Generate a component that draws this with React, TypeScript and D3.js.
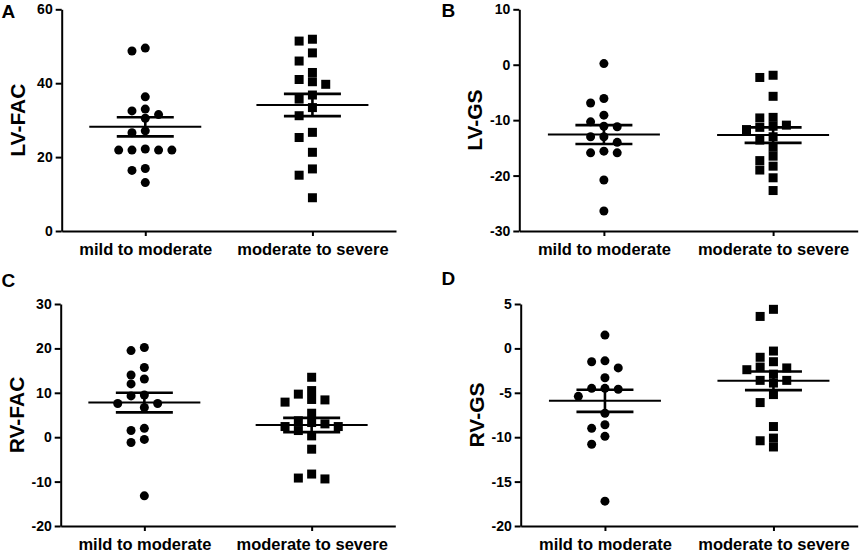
import React, { useRef, useEffect } from 'react';
import * as d3 from 'd3';

// groups shown on every panel
const categories = ['mild to moderate', 'moderate to severe'];

// A: LV-FAC
const lvFacMild = [49.5, 48.7, 36.3, 33.0, 32.5, 31.5, 30.5, 27.1, 26.6, 22.2, 21.9, 21.9, 21.9, 21.9, 16.9, 16.4, 13.1];
const lvFacSevere = [51.9, 51.4, 48.2, 46.0, 42.9, 41.0, 40.4, 39.7, 36.8, 35.7, 33.4, 31.2, 26.7, 25.3, 21.3, 16.8, 15.1, 9.0];
const lvFacMean = [28.2, 34.1];
const lvFacSem = [2.6, 3.0];
const lvFacTicks = [0, 20, 40, 60];

// B: LV-GS
const lvGsMild = [0.2, -6.1, -6.9, -9.1, -10.3, -11.1, -11.2, -13.0, -13.0, -14.0, -15.6, -15.9, -15.9, -20.8, -26.4];
const lvGsSevere = [-1.9, -2.3, -5.7, -9.5, -9.6, -10.9, -11.1, -11.3, -11.7, -13.0, -13.6, -14.9, -16.5, -17.3, -18.3, -19.0, -20.4, -22.7];
const lvGsMean = [-12.6, -12.7];
const lvGsSem = [1.7, 1.4];
const lvGsTicks = [-30, -20, -10, 0, 10];

// C: RV-FAC
const rvFacMild = [20.2, 19.5, 15.7, 14.0, 13.1, 12.0, 9.5, 9.3, 7.6, 7.6, 6.7, 2.0, 1.5, -0.5, -1.2, -13.2];
const rvFacSevere = [13.5, 10.5, 9.7, 8.5, 8.4, 7.9, 5.4, 3.7, 3.3, 3.0, 2.4, 2.4, 1.5, 0.3, -2.7, -8.3, -9.2, -9.4];
const rvFacMean = [7.8, 2.75];
const rvFacSem = [2.2, 1.6];
const rvFacTicks = [-20, -10, 0, 10, 20, 30];

// D: RV-GS
const rvGsMild = [1.5, -1.4, -1.5, -2.2, -3.3, -4.5, -4.5, -4.6, -5.4, -7.3, -8.6, -9.0, -9.9, -10.8, -17.2];
const rvGsSevere = [4.4, 3.6, -0.3, -1.0, -1.5, -2.1, -2.2, -2.4, -2.9, -3.6, -3.6, -3.9, -5.2, -6.1, -8.8, -10.1, -10.4, -11.1];
const rvGsMean = [-5.9, -3.65];
const rvGsSem = [1.25, 1.05];
const rvGsTicks = [-20, -15, -10, -5, 0, 5];

const FONT = '"Liberation Sans", Arial, Helvetica, sans-serif';

// spread points sideways in columns so they don't sit on top of each other
function swarmSlots(values: number[], y: (v: number) => number, minDist: number) {
  const order = d3.range(values.length).sort((a, b) => d3.descending(values[a], values[b]));
  const placed: { slot: number; py: number }[] = [];
  const slots = new Array(values.length).fill(0);
  for (const i of order) {
    const py = y(values[i]);
    for (let k = 0; k < 30; k++) {
      const s = k === 0 ? 0 : k % 2 ? -Math.ceil(k / 2) : Math.ceil(k / 2);
      if (!placed.some((p) => p.slot === s && Math.abs(p.py - py) < minDist)) {
        slots[i] = s;
        placed.push({ slot: s, py });
        break;
      }
    }
  }
  return slots;
}

interface PanelProps {
  letter: string;
  label: string;
  groups: number[][];
  means: number[];
  sems: number[];
  ticks: number[];
  x0: number;
  x1: number;
  yTop: number;
  yBot: number;
  letterX: number;
  letterY: number;
}

const Panel: React.FC<PanelProps> = ({ letter, label, groups, means, sems, ticks, x0, x1, yTop, yBot, letterX, letterY }) => {
  const gRef = useRef<SVGGElement | null>(null);

  useEffect(() => {
    const g = d3.select(gRef.current);
    g.selectAll('*').remove();

    const y = d3
      .scaleLinear()
      .domain([ticks[0], ticks[ticks.length - 1]])
      .range([yBot, yTop]);

    const x = d3.scalePoint<string>().domain(categories).range([x0, x1]).padding(0.5);

    // axes (plain hyphen for negatives, like the original)
    const yAxis = g
      .append('g')
      .attr('transform', `translate(${x0},0)`)
      .call(d3.axisLeft(y).tickValues(ticks).tickSize(6).tickSizeOuter(0).tickPadding(3).tickFormat((d) => String(d)));
    const xAxis = g
      .append('g')
      .attr('transform', `translate(0,${yBot})`)
      .call(d3.axisBottom(x).tickSize(5).tickSizeOuter(0).tickPadding(7));

    [yAxis, xAxis].forEach((a) => {
      a.select('.domain').attr('stroke', '#000').attr('stroke-width', 2);
      a.selectAll('.tick line').attr('stroke', '#000').attr('stroke-width', 2);
      a.selectAll('text').attr('fill', '#000').attr('font-family', FONT).attr('font-weight', 'bold');
    });
    yAxis.selectAll('text').attr('font-size', 14);
    xAxis.selectAll('text').attr('font-size', 16.5);

    // y label
    g.append('text')
      .attr('transform', `translate(${x0 - 37},${(yTop + yBot) / 2}) rotate(-90)`)
      .attr('text-anchor', 'middle')
      .attr('font-family', FONT)
      .attr('font-weight', 'bold')
      .attr('font-size', 21)
      .text(label);

    // panel letter
    g.append('text')
      .attr('x', letterX)
      .attr('y', letterY)
      .attr('font-family', FONT)
      .attr('font-weight', 'bold')
      .attr('font-size', 19)
      .text(letter);

    const step = 13.3;
    const size = 9;

    groups.forEach((vals, gi) => {
      const cx = x(categories[gi])!;
      const slots = swarmSlots(vals, y, 8.5);
      const pts = vals.map((v, i) => ({ v, s: slots[i] }));

      if (gi === 0) {
        g.selectAll(null)
          .data(pts)
          .enter()
          .append('circle')
          .attr('cx', (d) => cx + d.s * step)
          .attr('cy', (d) => y(d.v))
          .attr('r', size / 2)
          .attr('fill', '#000');
      } else {
        g.selectAll(null)
          .data(pts)
          .enter()
          .append('rect')
          .attr('x', (d) => cx + d.s * step - size / 2)
          .attr('y', (d) => y(d.v) - size / 2)
          .attr('width', size)
          .attr('height', size)
          .attr('fill', '#000');
      }

      // mean with SEM
      const m = means[gi];
      const se = sems[gi];
      g.append('line')
        .attr('x1', cx - 56)
        .attr('x2', cx + 56)
        .attr('y1', y(m))
        .attr('y2', y(m))
        .attr('stroke', '#000')
        .attr('stroke-width', 2);
      [m + se, m - se].forEach((v) => {
        g.append('line')
          .attr('x1', cx - 28.5)
          .attr('x2', cx + 28.5)
          .attr('y1', y(v))
          .attr('y2', y(v))
          .attr('stroke', '#000')
          .attr('stroke-width', 2.6);
      });
      g.append('line')
        .attr('x1', cx)
        .attr('x2', cx)
        .attr('y1', y(m + se))
        .attr('y2', y(m - se))
        .attr('stroke', '#000')
        .attr('stroke-width', 2.6);
    });
  }, [letter, label, groups, means, sems, ticks, x0, x1, yTop, yBot, letterX, letterY]);

  return <g ref={gRef}></g>;
};

const App: React.FC = () => {
  return (
    <svg width={861} height={557} style={{ position: 'absolute', left: 0, top: 0, background: '#fff' }}>
      <Panel letter="A" label="LV-FAC" groups={[lvFacMild, lvFacSevere]} means={lvFacMean} sems={lvFacSem} ticks={lvFacTicks}
        x0={61.7} x1={396} yTop={9.3} yBot={231} letterX={1.5} letterY={17.5} />
      <Panel letter="B" label="LV-GS" groups={[lvGsMild, lvGsSevere]} means={lvGsMean} sems={lvGsSem} ticks={lvGsTicks}
        x0={519.3} x1={857.7} yTop={9.3} yBot={231} letterX={441.5} letterY={17} />
      <Panel letter="C" label="RV-FAC" groups={[rvFacMild, rvFacSevere]} means={rvFacMean} sems={rvFacSem} ticks={rvFacTicks}
        x0={60.7} x1={395.3} yTop={304} yBot={526} letterX={1.5} letterY={287} />
      <Panel letter="D" label="RV-GS" groups={[rvGsMild, rvGsSevere]} means={rvGsMean} sems={rvGsSem} ticks={rvGsTicks}
        x0={520.7} x1={857.7} yTop={304} yBot={526} letterX={441.5} letterY={285} />
    </svg>
  );
};

export default App;
